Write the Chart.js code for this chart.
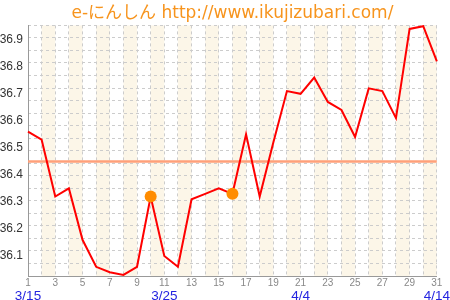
<!DOCTYPE html>
<html>
<head>
<meta charset="utf-8">
<script src="https://cdn.jsdelivr.net/npm/chart.js@4/dist/chart.umd.min.js"></script>
<style>
  html, body { margin: 0; padding: 0; background: #ffffff; }
  #c { display: block; }
</style>
</head>
<body>
<canvas id="c" width="450" height="300"></canvas>
<script>
// ---- data ----
const titleText = 'e-にんしん http://www.ikujizubari.com/';
const days = [1,2,3,4,5,6,7,8,9,10,11,12,13,14,15,16,17,18,19,20,21,22,23,24,25,26,27,28,29,30,31];
const temperatures = [36.56,36.53,36.32,36.35,36.16,36.06,36.04,36.03,36.06,36.32,
                      36.10,36.06,36.31,36.33,36.35,36.33,36.55,36.32,36.52,36.71,
                      36.70,36.76,36.67,36.64,36.54,36.72,36.71,36.61,36.94,36.95,36.82];
const markerDays = [10, 16];
const averageTemp = 36.45;
const yTickValues = [36.1,36.2,36.3,36.4,36.5,36.6,36.7,36.8,36.9];
const dateTickDays = [1, 11, 21, 31];
const dateTickLabels = ['3/15', '3/25', '4/4', '4/14'];

// ---- build datasets ----
const linePoints = days.map((d, i) => ({x: d, y: temperatures[i]}));
const markerPoints = markerDays.map(d => ({x: d, y: temperatures[days.indexOf(d)]}));
const avgPoints = [{x: days[0], y: averageTemp}, {x: days[days.length - 1], y: averageTemp}];

const sans = '"Liberation Sans", Arial, sans-serif';

const stripePlugin = {
  id: 'stripes',
  beforeDraw(chart) {
    const {ctx, chartArea: a, scales: {x}} = chart;
    ctx.save();
    ctx.fillStyle = '#ffffff';
    ctx.fillRect(0, 0, chart.width, chart.height);
    ctx.fillStyle = '#fcf6e8';
    days.forEach(d => {
      if (d % 2 === 0 && d < days[days.length - 1]) {
        const x1 = x.getPixelForValue(d);
        const x2 = x.getPixelForValue(d + 1);
        ctx.fillRect(x1, a.top, x2 - x1, a.bottom - a.top);
      }
    });
    ctx.restore();
  }
};

new Chart(document.getElementById('c'), {
  type: 'line',
  data: {
    datasets: [
      {
        label: 'markers',
        data: markerPoints,
        showLine: false,
        pointRadius: 6,
        pointBackgroundColor: '#ff8c00',
        pointBorderWidth: 0,
        order: 0
      },
      {
        label: 'temperature',
        data: linePoints,
        borderColor: '#ff0000',
        borderWidth: 2,
        pointRadius: 0,
        tension: 0,
        clip: false,
        order: 1
      },
      {
        label: 'average',
        data: avgPoints,
        borderColor: '#ffa07a',
        borderWidth: 2.5,
        pointRadius: 0,
        order: 2
      }
    ]
  },
  options: {
    responsive: false,
    animation: false,
    devicePixelRatio: 1,
    layout: { padding: { left: 0, right: 13, top: 0, bottom: 0 } },
    plugins: {
      legend: { display: false },
      tooltip: { enabled: false },
      title: {
        display: true,
        text: titleText,
        fullSize: false,
        color: '#f7941d',
        font: { family: '"DejaVu Sans", "Noto Sans CJK JP", sans-serif', size: 17, weight: 'normal', lineHeight: 1.2 },
        padding: { top: 3, bottom: 2 }
      }
    },
    scales: {
      x: {
        type: 'linear',
        position: 'bottom',
        min: 1,
        max: 31,
        ticks: {
          stepSize: 1,
          autoSkip: false,
          maxRotation: 0,
          padding: 1,
          color: '#888888',
          font: { family: sans, size: 10 },
          callback: v => (v % 2 === 1 ? String(v) : '')
        },
        grid: { display: true, color: '#cccccc', lineWidth: 1, drawTicks: false },
        border: { display: true, color: '#999999', width: 1, dash: [3, 3] },
        afterFit: s => { s.height = 12; }
      },
      x2: {
        type: 'linear',
        position: 'bottom',
        min: 1,
        max: 31,
        afterBuildTicks: s => { s.ticks = dateTickDays.map(v => ({value: v})); },
        ticks: {
          autoSkip: false,
          maxRotation: 0,
          padding: 0,
          color: '#2424e0',
          font: { family: sans, size: 13.5 },
          callback: v => dateTickLabels[dateTickDays.indexOf(v)]
        },
        grid: { display: false, drawTicks: false },
        border: { display: false },
        afterFit: s => { s.height = 12; }
      },
      y: {
        type: 'linear',
        position: 'left',
        min: 36.026,
        max: 36.953,
        afterBuildTicks: s => { s.ticks = yTickValues.map(v => ({value: v})); },
        ticks: {
          padding: 5,
          color: '#333333',
          font: { family: sans, size: 12 },
          callback: v => v.toFixed(1)
        },
        grid: { display: false, drawTicks: false },
        border: { display: true, color: '#999999', width: 1 },
        afterFit: s => { s.width = 28; }
      },
      yGrid: {
        type: 'linear',
        position: 'right',
        min: 0,
        max: 20,
        ticks: { display: false, stepSize: 1 },
        grid: { display: true, color: '#cccccc', lineWidth: 1, drawTicks: false },
        border: { display: false, dash: [3, 3] },
        afterFit: s => { s.width = 0; }
      }
    }
  },
  plugins: [stripePlugin]
});
</script>
</body>
</html>
